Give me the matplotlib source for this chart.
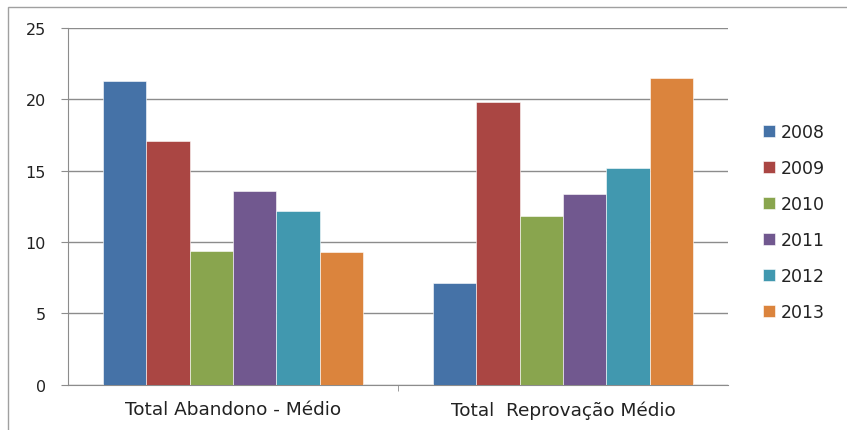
import matplotlib.pyplot as plt
import numpy as np
from matplotlib.patches import Rectangle

categories = ['Total Abandono - Médio', 'Total  Reprovação Médio']
years = ['2008', '2009', '2010', '2011', '2012', '2013']
valores = {
    '2008': [21.3, 7.1],
    '2009': [17.1, 19.8],
    '2010': [9.4, 11.8],
    '2011': [13.6, 13.4],
    '2012': [12.2, 15.2],
    '2013': [9.3, 21.5],
}
cores = ['#4572A7', '#AA4643', '#89A54E', '#71588F', '#4198AF', '#DB843D']

plt.rcParams['font.family'] = ['DejaVu Sans']
fig = plt.figure(dpi=100, figsize=(8.47, 4.31))
ax = fig.add_axes([0.0803, 0.105, 0.7792, 0.8277])

# chart area border
fig.patches.append(Rectangle((8/847, -0.1), 2, 1.1 - 8/431, transform=fig.transFigure,
                             fill=False, edgecolor='#a0a0a0', linewidth=1))

x = np.arange(len(categories))
w = 0.79/6
for i, (ano, cor) in enumerate(zip(years, cores)):
    ax.bar(x - 0.395 + w*(i+0.5), valores[ano], width=w, color=cor,
           edgecolor='white', linewidth=0.4, label=ano, zorder=3)

ax.set_ylim(0, 25)
ax.set_xlim(-0.5, 1.5)
ax.set_yticks(range(0, 26, 5))
ax.yaxis.grid(True, color='#8c8c8c', linewidth=1, zorder=0)
ax.set_xticks(x)
ax.set_xticklabels(categories, fontsize=13.3, color='#222222')
ax.set_xticks([0.5], minor=True)
ax.tick_params(axis='x', which='major', length=0, pad=11)
ax.tick_params(axis='x', which='minor', length=4, color='#8c8c8c')
ax.tick_params(axis='y', length=5, color='#8c8c8c', labelsize=11.5, pad=11,
               labelcolor='#222222')
for s in ['top', 'right']:
    ax.spines[s].set_visible(False)
for s in ['left', 'bottom']:
    ax.spines[s].set_color('#8c8c8c')

leg = ax.legend(loc='upper left', bbox_to_anchor=(1.042, 0.752), frameon=False,
                handlelength=0.72, handleheight=0.68, handletextpad=0.3,
                labelspacing=1.03, fontsize=12.5, borderaxespad=0)
for t in leg.get_texts():
    t.set_color('#222222')

plt.savefig('out.png')
